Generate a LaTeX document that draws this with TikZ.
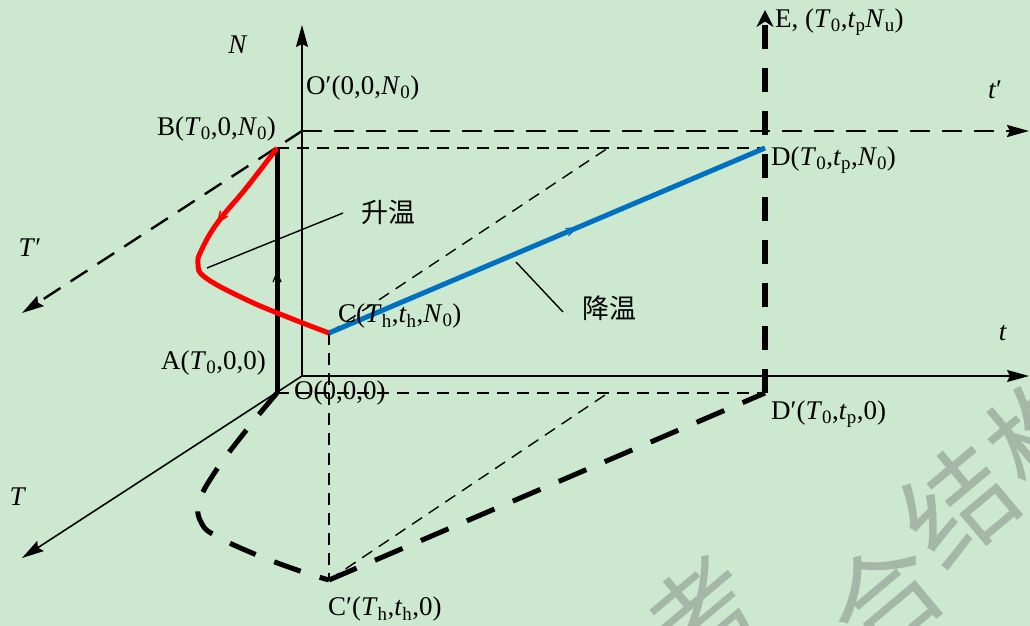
\documentclass[tikz,border=0pt]{standalone}
\usepackage{fontspec}
\setmainfont{Liberation Serif}
\newfontfamily\cjk{Noto Sans CJK SC}
\usetikzlibrary{arrows.meta,decorations.markings}
\definecolor{bg}{RGB}{204,232,207}
\definecolor{wmc}{RGB}{165,184,167}
\definecolor{heatc}{RGB}{255,0,0}
\definecolor{coolc}{RGB}{0,112,192}
\newcommand{\lsub}[1]{\textsubscript{#1}}
\begin{document}
\begin{tikzpicture}[x=1pt,y=-1pt,
  font=\fontsize{27}{31}\selectfont,
  lbl/.style={inner sep=0pt,anchor=west},
  clbl/.style={inner sep=0pt,anchor=center},
  zh/.style={inner sep=0pt,anchor=center,font=\cjk\fontsize{27}{31}\selectfont},
  wmark/.style={inner sep=0pt,anchor=center,text=wmc,rotate=40,font=\cjk\fontsize{110}{110}\selectfont},
  axis/.style={line width=1.6pt,-{Stealth[length=22pt,width=12pt,inset=3pt]}},
  dashaxis/.style={line width=2.4pt,dash pattern=on 20pt off 12pt,-{Stealth[length=22pt,width=12pt,inset=3pt]}},
  thindash/.style={line width=1.4pt,dash pattern=on 12pt off 8pt},
  thickdash/.style={line width=5pt,dash pattern=on 28pt off 20pt},
  midarrow/.style={postaction={decorate,decoration={markings,
     mark=at position #1 with {\arrow{Straight Barb[length=10pt,width=8pt,line width=1.2pt]}}}}}
]
\fill[bg] (0,0) rectangle (1030,626);
\useasboundingbox (0,0) rectangle (1030,626);

% watermark
\begin{scope}
\clip (0,0) rectangle (1030,626);
\node[wmark] (w1) at (703,615) {考};
\node[wmark] (w3) at (885,598) {合};
\node[wmark] (w4) at (958,505) {结};
\node[wmark] (w5) at (1045,430) {构};
\end{scope}

% coordinates
\coordinate (P0) at (302,376);
\coordinate (Ntip) at (302,25);
\coordinate (ttip) at (1029,376);
\coordinate (Ttip) at (22,558);
\coordinate (Pp) at (302,131);
\coordinate (tptip) at (1029,131);
\coordinate (Tptip) at (22,313);
\coordinate (O) at (277,393);
\coordinate (B) at (277,148);
\coordinate (C) at (329,333);
\coordinate (Cp) at (329,580);
\coordinate (D) at (765,148);
\coordinate (Dp) at (765,393);
\coordinate (Etip) at (765,10);
\coordinate (Q1) at (608,148);
\coordinate (Q2) at (608,393);
\coordinate (h1) at (207,268);
\coordinate (h2) at (343,213);
\coordinate (c1) at (516,262);
\coordinate (c2) at (563,312);

% axes
\draw[axis] (P0) -- (Ntip);
\draw[axis] (P0) -- (ttip);
\draw[axis] (P0) -- (Ttip);
\draw[dashaxis] (Pp) -- (tptip);
\draw[dashaxis] (Pp) -- (Tptip);

% thin dashed guides
\draw[thindash] (B) -- (D);
\draw[thindash] (O) -- (Dp);
\draw[thindash] (C) -- (Q1);
\draw[thindash] (Cp) -- (Q2);
\draw[thindash] (C) -- (Cp);

% thick E axis
\draw[thickdash,line width=6pt,dash pattern=on 24pt off 19pt,-{Stealth[length=17pt,width=17pt]}] (Dp) -- (Etip);

% thick dashed projection
\draw[thickdash] plot[smooth,tension=0.7] coordinates {(O) (248,428) (215,472) (199,503) (202,524) (218,537) (257,555) (300,571) (Cp)};
\draw[thickdash,dash pattern=on 30pt off 20pt] (Cp) -- (Dp);

% A-B
\draw[line width=5pt,midarrow=0.5] (O) -- (B);

% heating curve
\draw[heatc,line width=5pt,line join=round,
  postaction={decorate,decoration={markings,mark=at position 0.33 with {\arrow[heatc]{Straight Barb[length=11pt,width=9pt,line width=1.5pt]}}}}]
  plot[smooth,tension=0.7] coordinates {(B) (247,187) (218,222) (202,249) (198,264) (206,278) (247,300) (290,318) (C)};

% cooling line
\draw[coolc,line width=5pt,midarrow=0.57] (C) -- (D);

% leaders
\draw[line width=1.4pt] (h1) -- (h2);
\draw[line width=1.4pt] (c1) -- (c2);

% labels
\node[clbl] (lN) at (238,45) {\textit{N}};
\node[lbl] (lOp) at (306,88) {O′(0,0,\textit{N}\lsub{0})};
\node[lbl] (lB) at (157,129) {B(\textit{T}\lsub{0},0,\textit{N}\lsub{0})};
\node[clbl] (lTp) at (30,248) {\textit{T}′};
\node[lbl] (lA) at (161,363) {A(\textit{T}\lsub{0},0,0)};
\node[lbl] (lO) at (294,393) {O(0,0,0)};
\node[lbl] (lC) at (338,316) {C(\textit{T}\lsub{h},\textit{t}\lsub{h},\textit{N}\lsub{0})};
\node[clbl] (lT) at (18,497) {\textit{T}};
\node[lbl] (lCp) at (328,609) {C′(\textit{T}\lsub{h},\textit{t}\lsub{h},0)};
\node[lbl] (lDp) at (771,414) {D′(\textit{T}\lsub{0},\textit{t}\lsub{p},0)};
\node[lbl] (lD) at (771,160) {D(\textit{T}\lsub{0},\textit{t}\lsub{p},\textit{N}\lsub{0})};
\node[clbl] (lt) at (1003,333) {\textit{t}};
\node[clbl] (ltp) at (995,90) {\textit{t}′};
\node[lbl] (lE) at (775,22) {E, (\textit{T}\lsub{0},\textit{t}\lsub{p}\textit{N}\lsub{u})};
\node[zh] (lheat) at (388,212) {升温};
\node[zh] (lcool) at (609,308) {降温};
\end{tikzpicture}
\end{document}
